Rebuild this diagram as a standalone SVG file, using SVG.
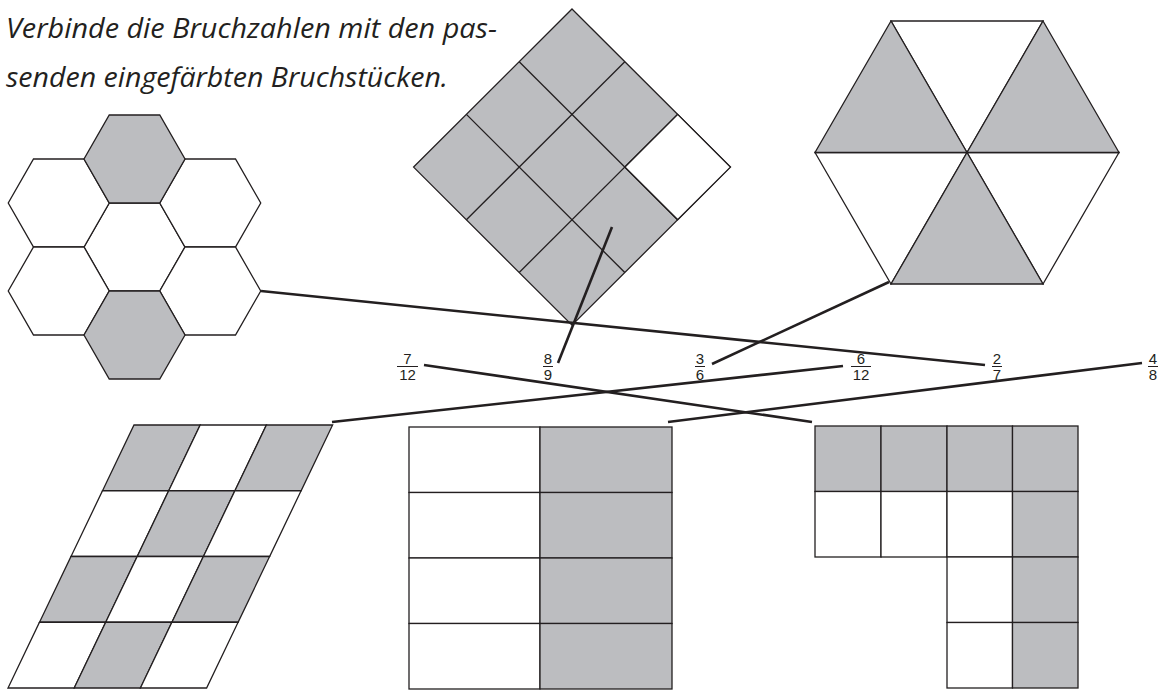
<svg xmlns="http://www.w3.org/2000/svg" width="1164" height="691" viewBox="0 0 1164 691">
<style>
.w{fill:#ffffff;stroke:#231f20;stroke-width:1.3;stroke-linejoin:miter}
.g{fill:#bcbdc0;stroke:#231f20;stroke-width:1.3;stroke-linejoin:miter}
.gl{fill:none;stroke:#231f20;stroke-width:1.3}
.c{fill:none;stroke:#231f20;stroke-width:2.6;stroke-linecap:butt}
.t{font-family:"Open Sans","DejaVu Sans",sans-serif;font-style:italic;font-size:27px;fill:#231f20}
.f{font-family:"Liberation Sans",Arial,sans-serif;font-size:15px;fill:#231f20;text-anchor:middle}
.fb{stroke:#231f20;stroke-width:1}
</style>
<rect width="1164" height="691" fill="#ffffff"/>
<g id="title">
<text class="t" x="6" y="38" textLength="491" lengthAdjust="spacingAndGlyphs">Verbinde die Bruchzahlen mit den pas-</text>
<text class="t" x="6" y="87" textLength="442" lengthAdjust="spacingAndGlyphs">senden eingefärbten Bruchstücken.</text>
</g>
<g id="hexcluster">
<polygon class="w" points="109.25,203 159.75,203 185,247 159.75,291 109.25,291 84,247"/>
<polygon class="w" points="33.5,159 84,159 109.25,203 84,247 33.5,247 8.25,203"/>
<polygon class="w" points="33.5,247 84,247 109.25,291 84,335 33.5,335 8.25,291"/>
<polygon class="w" points="185,159 235.5,159 260.75,203 235.5,247 185,247 159.75,203"/>
<polygon class="w" points="185,247 235.5,247 260.75,291 235.5,335 185,335 159.75,291"/>
<polygon class="g" points="109.25,115 159.75,115 185,159 159.75,203 109.25,203 84,159"/>
<polygon class="g" points="109.25,291 159.75,291 185,335 159.75,379 109.25,379 84,335"/>
</g>
<g id="diamond">
<polygon class="g" points="572,9 730.4,167.1 572,325.2 413.6,167.1"/>
<polygon class="w" points="677.6,114.4 730.4,167.1 677.6,219.8 624.8,167.1"/>
<line class="gl" x1="519.2" y1="61.7" x2="677.6" y2="219.8"/>
<line class="gl" x1="466.4" y1="114.4" x2="624.8" y2="272.5"/>
<line class="gl" x1="624.8" y1="61.7" x2="466.4" y2="219.8"/>
<line class="gl" x1="677.6" y1="114.4" x2="519.2" y2="272.5"/>
</g>
<g id="trihex">
<polygon class="w" points="891,21 1043,21 967,152.5"/>
<polygon class="w" points="1119,152.5 1043,284 967,152.5"/>
<polygon class="w" points="891,284 815,152.5 967,152.5"/>
<polygon class="g" points="1043,21 1119,152.5 967,152.5"/>
<polygon class="g" points="1043,284 891,284 967,152.5"/>
<polygon class="g" points="815,152.5 891,21 967,152.5"/>
</g>
<g id="parallelogram">
<polygon class="g" points="134,425 200.2,425 168.7,490.75 102.5,490.75"/>
<polygon class="w" points="200.2,425 266.4,425 234.9,490.75 168.7,490.75"/>
<polygon class="g" points="266.4,425 332.6,425 301.1,490.75 234.9,490.75"/>
<polygon class="w" points="102.5,490.75 168.7,490.75 137.2,556.5 71,556.5"/>
<polygon class="g" points="168.7,490.75 234.9,490.75 203.4,556.5 137.2,556.5"/>
<polygon class="w" points="234.9,490.75 301.1,490.75 269.6,556.5 203.4,556.5"/>
<polygon class="g" points="71,556.5 137.2,556.5 105.7,622.25 39.5,622.25"/>
<polygon class="w" points="137.2,556.5 203.4,556.5 171.9,622.25 105.7,622.25"/>
<polygon class="g" points="203.4,556.5 269.6,556.5 238.1,622.25 171.9,622.25"/>
<polygon class="w" points="39.5,622.25 105.7,622.25 74.2,688 8,688"/>
<polygon class="g" points="105.7,622.25 171.9,622.25 140.4,688 74.2,688"/>
<polygon class="w" points="171.9,622.25 238.1,622.25 206.6,688 140.4,688"/>
</g>
<g id="rectangle">
<rect class="w" x="409" y="427" width="131" height="65.5"/>
<rect class="w" x="409" y="492.5" width="131" height="65.5"/>
<rect class="w" x="409" y="558" width="131" height="65.5"/>
<rect class="w" x="409" y="623.5" width="131" height="65.5"/>
<rect class="g" x="540" y="427" width="132" height="65.5"/>
<rect class="g" x="540" y="492.5" width="132" height="65.5"/>
<rect class="g" x="540" y="558" width="132" height="65.5"/>
<rect class="g" x="540" y="623.5" width="132" height="65.5"/>
</g>
<g id="lshape">
<rect class="g" x="815" y="426" width="66" height="65.5"/>
<rect class="g" x="881" y="426" width="66" height="65.5"/>
<rect class="g" x="947" y="426" width="65.5" height="65.5"/>
<rect class="g" x="1012.5" y="426" width="65.5" height="65.5"/>
<rect class="w" x="815" y="491.5" width="66" height="65.5"/>
<rect class="w" x="881" y="491.5" width="66" height="65.5"/>
<rect class="w" x="947" y="491.5" width="65.5" height="65.5"/>
<rect class="g" x="1012.5" y="491.5" width="65.5" height="65.5"/>
<rect class="w" x="947" y="557" width="65.5" height="65.5"/>
<rect class="g" x="1012.5" y="557" width="65.5" height="65.5"/>
<rect class="w" x="947" y="622.5" width="65.5" height="65.5"/>
<rect class="g" x="1012.5" y="622.5" width="65.5" height="65.5"/>
</g>
<g id="fractions">
<g id="f7_12"><text class="f" x="407.5" y="364">7</text><line class="fb" x1="397" y1="366.5" x2="418" y2="366.5"/><text class="f" x="407.5" y="380">12</text></g>
<g id="f8_9"><text class="f" x="548" y="364">8</text><line class="fb" x1="543" y1="366.5" x2="553" y2="366.5"/><text class="f" x="548" y="380">9</text></g>
<g id="f3_6"><text class="f" x="700" y="364">3</text><line class="fb" x1="695" y1="366.5" x2="705" y2="366.5"/><text class="f" x="700" y="380">6</text></g>
<g id="f6_12"><text class="f" x="861" y="364">6</text><line class="fb" x1="851" y1="366.5" x2="871" y2="366.5"/><text class="f" x="861" y="380">12</text></g>
<g id="f2_7"><text class="f" x="997" y="364">2</text><line class="fb" x1="992" y1="366.5" x2="1002" y2="366.5"/><text class="f" x="997" y="380">7</text></g>
<g id="f4_8"><text class="f" x="1153" y="364">4</text><line class="fb" x1="1148" y1="366.5" x2="1158" y2="366.5"/><text class="f" x="1153" y="380">8</text></g>
</g>
<g id="connectors">
<line class="c" x1="424" y1="365" x2="812" y2="422"/>
<line class="c" x1="558" y1="363" x2="612" y2="227"/>
<line class="c" x1="712" y1="364" x2="889" y2="282"/>
<line class="c" x1="843" y1="366" x2="332" y2="422"/>
<line class="c" x1="985" y1="365" x2="261" y2="291"/>
<line class="c" x1="1142" y1="363" x2="668" y2="422"/>
</g>
</svg>
